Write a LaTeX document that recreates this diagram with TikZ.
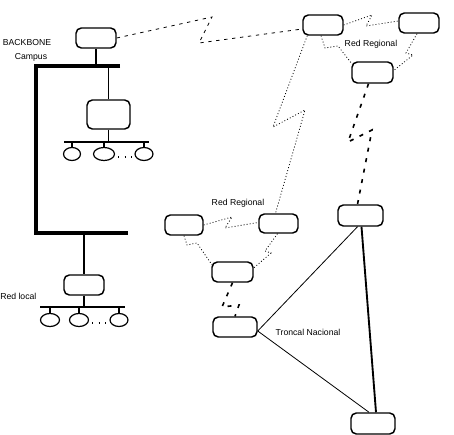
\documentclass[tikz,border=0pt]{standalone}
\usepackage{fontspec}
\setmainfont{Liberation Sans}
\usetikzlibrary{calc,shapes.geometric}
\begin{document}
\begin{tikzpicture}[x=0.75pt,y=-0.75pt,
  box/.style={draw, line width=1.1pt, rounded corners=4pt, inner sep=0pt, minimum width=30pt, minimum height=15pt},
  host/.style={draw, ellipse, line width=0.9pt, inner sep=0pt, minimum height=9.75pt},
  lbl/.style={font=\fontsize{6.5}{7}\selectfont, inner sep=0pt},
  radio/.style={line width=0.6pt, dash pattern=on 0.7pt off 1.6pt},
  campuslink/.style={line width=0.6pt, dash pattern=on 2.5pt off 3.5pt},
  heavylink/.style={line width=1.2pt, dash pattern=on 3pt off 5pt},
  trunk/.style={line width=0.6pt},
  thicktrunk/.style={line width=1.4pt},
  backbone/.style={line width=2.4pt},
  bus/.style={line width=0.8pt},
  drop/.style={line width=1.1pt},
  more/.style={line width=0.9pt, dash pattern=on 0.9pt off 4pt}]
\useasboundingbox[fill=white] (0,0) rectangle (454,435);

% ---------- campus side ----------
\node[box] (Cam) at (96,38) {};
\node[lbl] (tbb) at (27,43) {BACKBONE};
\node[lbl] (tcp) at (31,57) {Campus};

\coordinate (bbA) at (120,66);
\coordinate (bbB) at (36,66);
\coordinate (bbC) at (36,233);
\coordinate (bbD) at (128,233);
\draw[backbone] (bbA) -- (bbB) -- (bbC) -- (bbD);

\coordinate (bcam) at (96,66);
\draw[line width=0.8pt] (Cam.south) -- (bcam);

% LAN 1
\node[box, minimum width=32.25pt, minimum height=21.75pt] (L1) at (108.5,114.5) {};
\coordinate (bl1) at (108.5,66);
\draw[drop] (bl1) -- (L1.north);
\coordinate (bus1a) at (64,142);
\coordinate (bus1b) at (149,142);
\coordinate (bus1m) at (108.5,142);
\draw[bus] (bus1a) -- (bus1b);
\draw[drop] (L1.south) -- (bus1m);
\node[host, minimum width=12.75pt] (h11) at (72,154) {};
\node[host, minimum width=15.75pt] (h12) at (104,154) {};
\node[host, minimum width=13.5pt] (h13) at (144,154) {};
\draw[drop] (h11.north |- bus1a) -- (h11.north);
\draw[drop] (h12.north |- bus1a) -- (h12.north);
\draw[drop] (h13.north |- bus1a) -- (h13.north);
\draw[more] ($(h12.east)+(3,3)$) -- ($(h13.west)+(-1,3)$);

% LAN 2
\node[box] (L2) at (84,285) {};
\coordinate (bl2) at (84,233);
\draw[drop] (bl2) -- (L2.north);
\coordinate (bus2a) at (40,307);
\coordinate (bus2b) at (125,307);
\coordinate (bus2m) at (84,307);
\draw[bus] (bus2a) -- (bus2b);
\draw[drop] (L2.south) -- (bus2m);
\node[host, minimum width=14.25pt] (h21) at (50,320) {};
\node[host, minimum width=14.25pt] (h22) at (79,320) {};
\node[host, minimum width=13.5pt] (h23) at (119,320) {};
\draw[drop] (h21.north |- bus2a) -- (h21.north);
\draw[drop] (h22.north |- bus2a) -- (h22.north);
\draw[drop] (h23.north |- bus2a) -- (h23.north);
\draw[more] ($(h22.east)+(3,3)$) -- ($(h23.west)+(-1,3)$);
\node[lbl, anchor=west] (trl) at (0,296) {Red local};

% ---------- upper regional network ----------
\node[box] (A) at (323,25) {};
\node[box] (B) at (419,23) {};
\node[box, minimum width=30.75pt, minimum height=15.75pt] (C) at (372.5,72.5) {};
\node[lbl] (tr1) at (371,44) {Red Regional};

\draw[campuslink] (Cam.east) -- (212,17) -- (199,43) -- ($(A.west)+(0,4)$);
\draw[radio] (A.east) -- (372,15) -- (366,26) -- ($(B.west)+(0,-2)$);
\draw[radio] ($(A.south)+(-2,0)$) -- (325,48) -- (338,46) -- ($(C.north west)+(1,3)$);
\draw[radio] ($(B.south)+(-2,0)$) -- (406,53) -- (413,55) -- ($(C.east)+(0,-2)$);

% ---------- lower regional network ----------
\node[box, minimum width=29.25pt, minimum height=14.25pt] (E) at (278.5,223.5) {};
\node[box, minimum width=28.5pt] (G) at (184,225) {};
\node[box, minimum width=30.75pt] (H) at (232.5,272) {};
\node[lbl] (tr2) at (238,203) {Red Regional};

\draw[radio] ($(A.south west)+(5,0)$) -- (273,127) -- (305,110) -- ($(E.north)+(-3,0)$);
\draw[radio] (G.east) -- (232,217) -- (225,228) -- ($(E.west)+(0,-1)$);
\draw[radio] (G.south) -- (187,245) -- (197,243) -- ($(H.north west)+(1,4)$);
\draw[radio] ($(E.south)+(-1,0)$) -- (265,251) -- (271,253) -- ($(H.east)+(0,-4)$);

% ---------- national trunk ----------
\node[box, minimum width=33.75pt, minimum height=15.75pt] (D) at (360.5,215.5) {};
\node[box, minimum width=33pt] (I) at (235,327) {};
\node[box, minimum width=33pt, minimum height=15.75pt] (F) at (373,423.5) {};
\node[lbl] (ttn) at (308,332) {Troncal Nacional};

\draw[heavylink] ($(C.south)+(-4,0)$) -- (348,142) -- (372,130) -- ($(D.north)+(-3,0)$);
\draw[heavylink] (H.south) -- (222,307) -- (239,305) -- (I.north);

\draw[trunk] ($(D.south)+(-3,0)$) -- ($(I.east)+(0,4)$);
\draw[trunk] ($(I.east)+(0,4)$) -- ($(F.north)+(-4,0)$);
\draw[thicktrunk] ($(D.south)+(1,0)$) -- ($(F.north)+(3,0)$);
\end{tikzpicture}
\end{document}
